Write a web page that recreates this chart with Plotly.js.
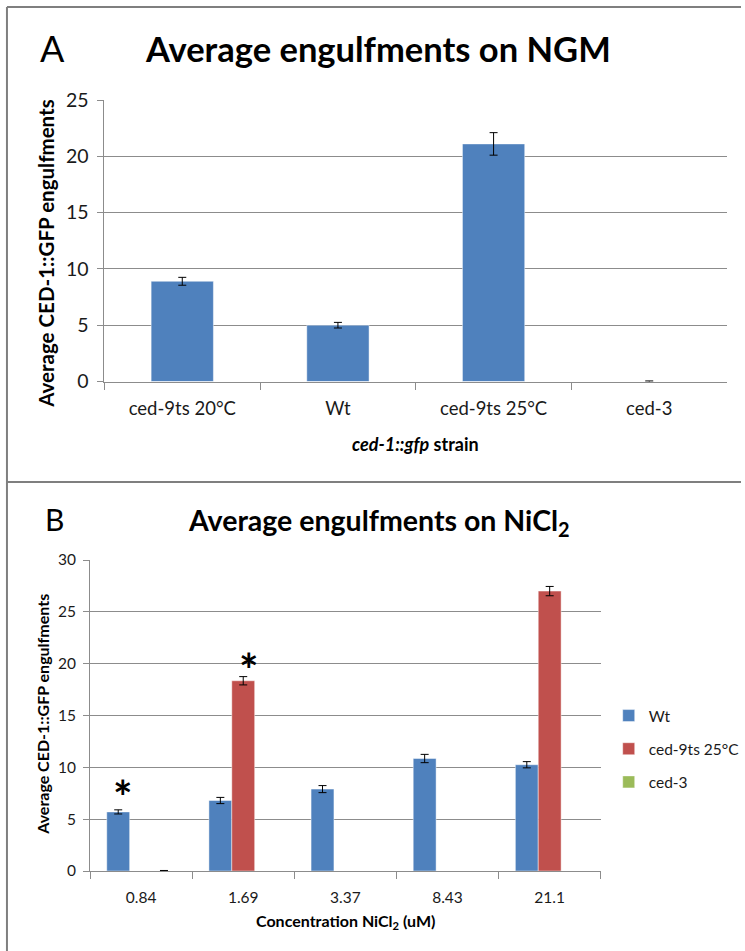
<!DOCTYPE html>
<html>
<head>
<meta charset="utf-8">
<script src="https://cdn.plot.ly/plotly-3.0.1.min.js"></script>
<style>html,body{margin:0;padding:0;background:#fff;}#chart{width:745px;height:951px;}</style>
</head>
<body>
<div id="chart"></div>
<script>
// ---- Data ----
const catsA = ['ced-9ts 20°C', 'Wt', 'ced-9ts 25°C', 'ced-3'];
const valsA = [8.9, 5.0, 21.1, 0];
const errA = [0.35, 0.25, 1.0, 0.05];

const catsB = ['0.84', '1.69', '3.37', '8.43', '21.1'];
const seriesNamesB = ['Wt', 'ced-9ts 25°C', 'ced-3'];
const wtB = [5.7, 6.8, 7.9, 10.85, 10.25];
const wtErrB = [0.2, 0.3, 0.34, 0.4, 0.3];
const ced9B = [null, 18.35, null, null, 27.0];
const ced9ErrB = [null, 0.4, null, null, 0.45];
const ced3B = [0, null, null, null, null];
const ced3ErrB = [0.05, null, null, null, null];

// ---- helpers ----
const W = 745, H = 951;
const px = x => x / W;
const py = y => 1 - y / H;
const FONT = 'Lato, "Open Sans", sans-serif';
const TXT = '#1a1a1a';
const GRID = '#8c8c8c';
const colors = ['#4F81BD', '#C0504D', '#9BBB59'];

function errObj(arr) {
  return {type: 'data', array: arr, visible: true, color: '#000', thickness: 1, width: 4};
}

const traces = [
  {
    type: 'bar', x: catsA, y: valsA, xaxis: 'x', yaxis: 'y',
    width: 0.4, offset: -0.2, showlegend: false,
    marker: {color: colors[0], line: {color: 'rgba(255,255,255,0.45)', width: 1}},
    error_y: errObj(errA), hoverinfo: 'skip'
  },
  {
    type: 'bar', name: seriesNamesB[0], x: catsB, y: wtB, xaxis: 'x2', yaxis: 'y2',
    width: 0.224, offset: -0.336, legendgroup: 'a',
    marker: {color: colors[0], line: {color: 'rgba(255,255,255,0.45)', width: 1}},
    error_y: errObj(wtErrB)
  },
  {
    type: 'bar', name: seriesNamesB[1], x: catsB, y: ced9B, xaxis: 'x2', yaxis: 'y2',
    width: 0.224, offset: -0.112, legendgroup: 'b',
    marker: {color: colors[1], line: {color: 'rgba(255,255,255,0.45)', width: 1}},
    error_y: errObj(ced9ErrB)
  },
  {
    type: 'bar', name: seriesNamesB[2], x: catsB, y: ced3B, xaxis: 'x2', yaxis: 'y2',
    width: 0.224, offset: 0.112, legendgroup: 'c',
    marker: {color: colors[2], line: {color: 'rgba(255,255,255,0.45)', width: 1}},
    error_y: errObj(ced3ErrB)
  }
];

const xCommon = {
  type: 'category', showline: true, linecolor: GRID, linewidth: 1,
  ticks: 'outside', tickson: 'boundaries', ticklen: 7, tickcolor: GRID,
  showgrid: false, zeroline: false, fixedrange: true
};
const yCommon = {
  showline: true, linecolor: GRID, linewidth: 1, ticks: 'outside', ticklen: 6,
  tickcolor: GRID, showgrid: true, gridcolor: GRID, gridwidth: 1, zeroline: false,
  dtick: 5, fixedrange: true
};

function paperText(text, x, y, size, extra) {
  return Object.assign({text: text, x: px(x), y: py(y), xref: 'paper', yref: 'paper',
    xanchor: 'center', yanchor: 'middle', showarrow: false,
    font: {family: FONT, size: size, color: '#000'}}, extra || {});
}

const annotations = [
  paperText('A', 53, 48, 36),
  paperText('<b>Average engulfments on NGM</b>', 380, 48, 34.5),
  paperText('<b>Average CED-1::GFP engulfments</b>', 46, 254, 20.5, {textangle: -90}),
  paperText('<b><i>ced-1::gfp</i> strain</b>', 418, 444, 18),
  paperText('B', 55, 519, 30),
  paperText('<b>Average engulfments on NiCl<sub>2</sub></b>', 381, 522, 28.5),
  paperText('<b>Average CED-1::GFP engulfments</b>', 42, 714, 16, {textangle: -90}),
  paperText('<b>Concentration NiCl<sub>2</sub> (uM)</b>', 347, 921, 16),
  // significance asterisks above bars (positioned from data)
  {text: '<b>*</b>', x: 0, y: wtB[0] + wtErrB[0], xref: 'x2', yref: 'y2', xshift: -18, yshift: 13,
   xanchor: 'center', yanchor: 'middle', showarrow: false, font: {family: FONT, size: 46, color: '#000'}},
  {text: '<b>*</b>', x: 1, y: ced9B[1] + ced9ErrB[1], xref: 'x2', yref: 'y2', xshift: 6, yshift: 7,
   xanchor: 'center', yanchor: 'middle', showarrow: false, font: {family: FONT, size: 46, color: '#000'}}
];

const frame = {color: '#7f7f7f', width: 2};
const shapes = [
  {type: 'line', xref: 'paper', yref: 'paper', x0: px(7), x1: px(7), y0: py(7), y1: py(951), line: frame},
  {type: 'line', xref: 'paper', yref: 'paper', x0: px(7), x1: px(745), y0: py(7), y1: py(7), line: frame},
  {type: 'line', xref: 'paper', yref: 'paper', x0: px(7), x1: px(745), y0: py(482), y1: py(482), line: frame}
];

const layout = {
  width: W, height: H,
  margin: {l: 0, r: 0, t: 0, b: 0},
  paper_bgcolor: '#fff', plot_bgcolor: '#fff',
  font: {family: FONT, color: TXT},
  barmode: 'overlay',
  xaxis: Object.assign({}, xCommon, {domain: [px(105), px(731)], anchor: 'y', ticklabelstandoff: 10,
    tickfont: {family: FONT, size: 18.5, color: TXT}}),
  yaxis: Object.assign({}, yCommon, {domain: [py(381.5), py(100)], range: [0, 25], anchor: 'x',
    ticklabelstandoff: 5, tickfont: {family: FONT, size: 19.5, color: TXT}}),
  xaxis2: Object.assign({}, xCommon, {domain: [px(90.5), px(604)], anchor: 'y2', ticklabelstandoff: 12,
    tickfont: {family: FONT, size: 15.5, color: TXT}}),
  yaxis2: Object.assign({}, yCommon, {domain: [py(871), py(560)], range: [0, 30], anchor: 'x2',
    ticklabelstandoff: 4, tickfont: {family: FONT, size: 15.5, color: TXT}}),
  showlegend: true,
  legend: {x: px(612), y: py(699), xanchor: 'left', yanchor: 'top', traceorder: 'grouped',
    tracegroupgap: 10, bgcolor: 'rgba(0,0,0,0)', font: {family: FONT, size: 15.5, color: TXT}},
  annotations: annotations,
  shapes: shapes
};

Plotly.newPlot('chart', traces, layout, {displayModeBar: false, staticPlot: true});
</script>
</body>
</html>
